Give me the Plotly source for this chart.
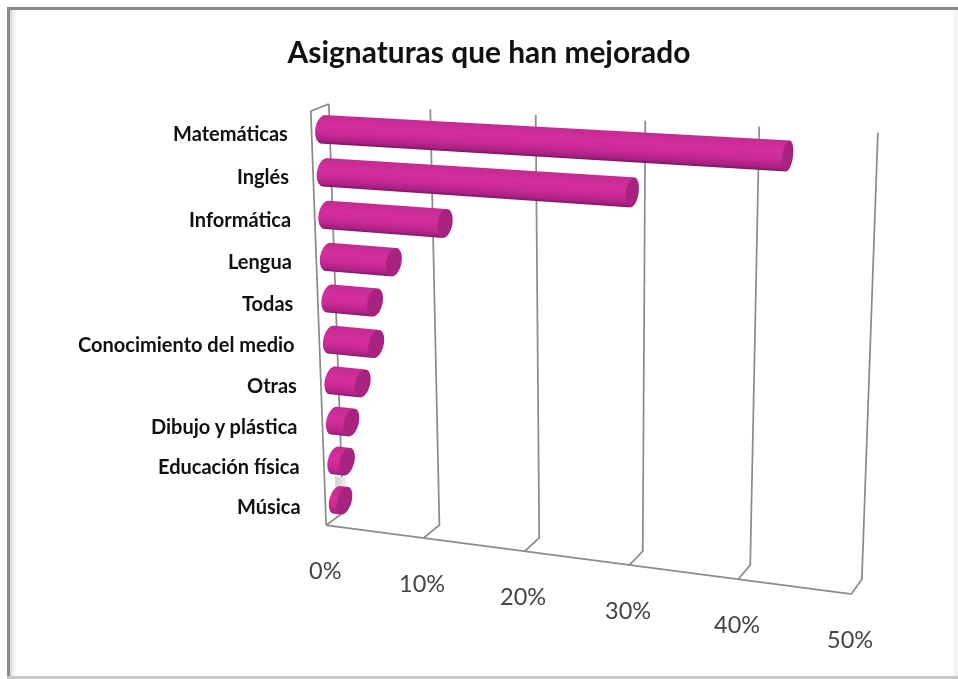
import numpy as np
import plotly.graph_objects as go

TITLE = "Asignaturas que han mejorado"
categories = ["Matemáticas", "Inglés", "Informática", "Lengua", "Todas",
              "Conocimiento del medio", "Otras", "Dibujo y plástica",
              "Educación física", "Música"]
values = [43.0, 29.5, 12.0, 6.9, 4.9, 4.9, 3.4, 2.1, 1.5, 1.1]
ticks = [0, 10, 20, 30, 40, 50]
tick_labels = ["0%", "10%", "20%", "30%", "40%", "50%"]

# Oblique chart axes inside the 3D scene: each row gives a scene coordinate as
# offset + a*value + b*depth + c*category, with value, depth and category centred.
ROW_X = (0.254, 1.28279, 0.03902, -0.01678)
ROW_Y = (0.0, -0.19053, 0.03, -0.11391)
ROW_Z = (-0.00726, -0.12026, 0.02635, 1.04808)


def place(v, d, k):
    v = np.asarray(v, float) / 50 - 0.5
    d = np.asarray(d, float) - 0.5
    k = np.asarray(k, float) / 10 - 0.5
    return tuple(r[0] + r[1] * v + r[2] * d + r[3] * k for r in (ROW_X, ROW_Y, ROW_Z))


RADIUS_K = 0.32   # bar radius along the category axis
RADIUS_D = 0.47   # bar radius along the depth axis
BAR_BASE = 0.3    # bars stand slightly clear of the side wall
GRID = "#8c8c8c"
SIDE_SCALE = [[0, "#64124e"], [0.2, "#a82082"], [0.5, "#c92a96"], [0.8, "#d52f9e"], [1, "#c62b94"]]
CAP = "#a8237f"
FLAT = dict(ambient=1, diffuse=0, specular=0, roughness=1, fresnel=0)

fig = go.Figure()


def wire(v, d, k):
    x, y, z = place(v, d, k)
    fig.add_trace(go.Scatter3d(x=x, y=y, z=z, mode="lines", line=dict(color=GRID, width=3.5),
                               hoverinfo="skip", showlegend=False))


# Walls and floor gridlines
for t in ticks:
    wire([t, t, t], [0, 1, 1], [0, 0, 10])
wire([0, 50], [0, 0], [0, 0])
wire([0, 0, 0], [1, 0, 0], [10, 10, 0])

# Faint smudge behind the last bar
sx, sy, sz = place(np.array([[-0.7, -0.7], [0.5, 0.5]]), np.full((2, 2), 0.985), np.array([[0.5, 0.92], [0.5, 0.92]]))
fig.add_trace(go.Surface(x=sx, y=sy, z=sz, surfacecolor=np.array([[0.0, 0.0], [1.0, 1.0]]), cmin=0, cmax=1,
                         colorscale=[[0, "#d0d0d0"], [1, "#eeeeee"]], showscale=False, hoverinfo="skip", lighting=FLAT))

# Cylindrical bars, each a shaded side plus an end cap
n = len(categories)
th = np.linspace(0, 2 * np.pi, 61)
for i, v in enumerate(values):
    kc = n - 1 - i + 0.5
    x, y, z = place(np.array([np.full_like(th, BAR_BASE), np.full_like(th, v)]),
                    np.array([0.5 + RADIUS_D * np.cos(th)] * 2),
                    np.array([kc + RADIUS_K * np.sin(th)] * 2))
    fig.add_trace(go.Surface(x=x, y=y, z=z, surfacecolor=np.array([np.sin(th)] * 2), cmin=-1, cmax=1,
                             colorscale=SIDE_SCALE, showscale=False, hoverinfo="skip", lighting=FLAT))
    rr = np.array([0, 1.0])
    x, y, z = place(np.full((2, 61), v), 0.5 + np.outer(rr, RADIUS_D * np.cos(th)), kc + np.outer(rr, RADIUS_K * np.sin(th)))
    fig.add_trace(go.Surface(x=x, y=y, z=z, surfacecolor=np.zeros((2, 61)), cmin=-1, cmax=1,
                             colorscale=[[0, CAP], [1, CAP]], showscale=False, hoverinfo="skip", lighting=FLAT))

labels = []
for i, cat in enumerate(categories):
    x, y, z = place(0, 0, n - 1 - i + 0.5)
    labels.append(dict(x=float(x), y=float(y), z=float(z), text=cat, showarrow=False, xanchor="right", xshift=-22,
                       font=dict(family="Lato", size=20, color="#111111", weight="bold")))
for t, lab in zip(ticks, tick_labels):
    x, y, z = place(t, 0, 0)
    labels.append(dict(x=float(x), y=float(y), z=float(z), text=lab, showarrow=False, xshift=-1.5, yshift=-45,
                       font=dict(family="Lato", size=23.5, color="#444444")))

hidden = dict(visible=False, range=[-1.5, 1.5])


def band(x0, y0, x1, y1, c):
    return dict(type="rect", xref="paper", yref="paper", x0=x0 / 958, x1=x1 / 958, y0=1 - y0 / 679, y1=1 - y1 / 679,
                fillcolor=c, line_width=0, layer="above")


frame = [band(7, 7, 958, 10, "#8a8a8a"), band(7, 7, 10, 677, "#8a8a8a"), band(7, 676, 958, 679, "#c8c8c8"),
         band(10, 10, 12, 676, "#dcdcdc"), band(12, 10, 14, 676, "#eeeeee"), band(14, 10, 16, 676, "#f8f8f8"),
         band(954, 10, 958, 676, "#f4f4f4")]

fig.update_layout(
    width=958, height=679, margin=dict(l=0, r=0, t=0, b=0), paper_bgcolor="white", shapes=frame,
    title=dict(text=TITLE, x=489 / 958, y=1 - 53 / 679, xanchor="center", yanchor="middle",
               font=dict(family="Lato", size=29.9, color="#111111", weight="bold")),
    scene=dict(domain=dict(x=[0, 1], y=[0, 1]), aspectmode="manual", aspectratio=dict(x=3, y=3, z=3),
               xaxis=hidden, yaxis=hidden, zaxis=hidden,
               camera=dict(eye=dict(x=0, y=-2, z=0), center=dict(x=0, y=0, z=0), up=dict(x=0, y=0, z=1),
                           projection=dict(type="perspective")),
               annotations=labels),
)
fig.write_html("out.html")
